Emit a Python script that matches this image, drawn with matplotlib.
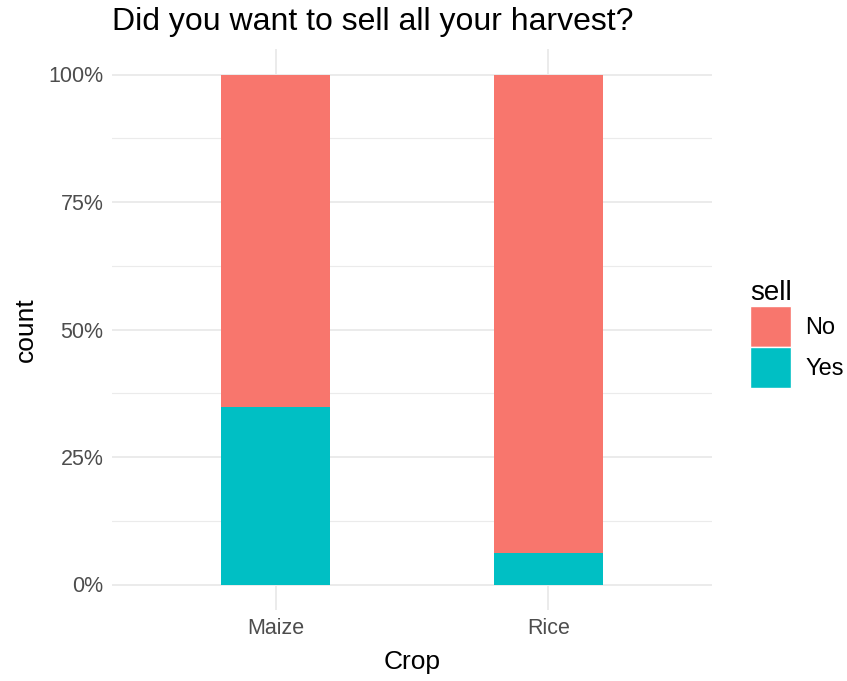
import matplotlib.pyplot as plt
import numpy as np
from matplotlib.patches import Patch
from matplotlib.ticker import FixedLocator

crops = ["Maize", "Rice"]
sell_levels = ["No", "Yes"]
share_yes = [0.349, 0.062]
share_no = [1 - v for v in share_yes]
colors = {"No": "#F8766D", "Yes": "#00BFC4"}

plt.rcParams['font.family'] = ['Liberation Sans', 'DejaVu Sans']

fig = plt.figure(figsize=(8.47, 6.81), dpi=100)
ax = fig.add_axes([112/847, 71/681, 600/847, 561/681])

x = np.arange(1, len(crops)+1)
ax.bar(x, share_yes, width=0.4, color=colors["Yes"], zorder=3)
ax.bar(x, share_no, width=0.4, bottom=share_yes, color=colors["No"], zorder=3)

ax.set_xlim(0.4, 2.6)
ax.set_ylim(-0.05, 1.05)
ax.set_xticks(x)
ax.set_xticklabels(crops)
yt = [0, 0.25, 0.5, 0.75, 1.0]
ax.set_yticks(yt)
ax.set_yticklabels([f"{int(v*100)}%" for v in yt])
ax.yaxis.set_minor_locator(FixedLocator([0.125, 0.375, 0.625, 0.875]))

ax.grid(True, which='major', color='#EBEBEB', linewidth=1.4, zorder=0)
ax.grid(True, which='minor', axis='y', color='#EBEBEB', linewidth=0.8, zorder=0)
for s in ax.spines.values():
    s.set_visible(False)
ax.tick_params(which='both', length=0, labelsize=15.5, labelcolor='#4D4D4D', pad=6)

ax.set_xlabel("Crop", fontsize=19, color='black', labelpad=8)
ax.set_ylabel("count", fontsize=19, color='black', labelpad=8)
fig.text(112/847, 1 - 22/681, "Did you want to sell all your harvest?", fontsize=23,
         ha='left', va='center')

handles = [Patch(facecolor=colors[k], edgecolor='white', linewidth=1) for k in sell_levels]
leg = fig.legend(handles, sell_levels, title="sell", loc='center left',
                 bbox_to_anchor=(750/847, 1 - 334/681), frameon=False,
                 fontsize=17, title_fontsize=20, handlelength=1.75, handleheight=2.3,
                 handletextpad=0.6, labelspacing=0.0, borderaxespad=0, borderpad=0)
leg._legend_box.align = "left"

fig.savefig("out.png", dpi=100)
